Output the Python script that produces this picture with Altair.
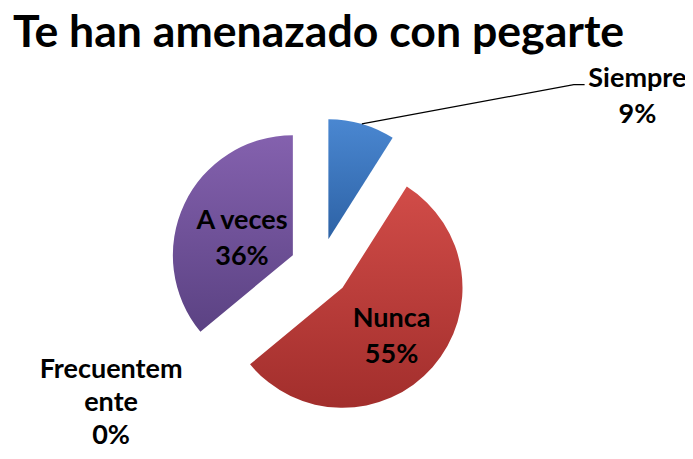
import math
import altair as alt
import pandas as pd

# ---------------- data ----------------
TITLE = "Te han amenazado con pegarte"
categories = ["Siempre", "Nunca", "Frecuentemente", "A veces"]
percent = [9, 55, 0, 36]
label_text = [["Siempre", "9%"], ["Nunca", "55%"], ["Frecuentem", "ente", "0%"], ["A veces", "36%"]]

# ---------------- style ----------------
colors_top = ["#4A87D1", "#D14C48", "#9BBB59", "#8461AE"]
colors_bottom = ["#2D62A5", "#A22E2C", "#77933C", "#5B4283"]
FONT = "Lato"
W, H = 677, 443          # view size
CX, CY = 312, 260        # pie centre in view
R = 120                  # pie radius (px)
EXPLODE = 0.25           # explosion distance, in radii
# label anchor (first baseline) : angle clockwise from 12 o'clock (deg), distance in radii
LABEL_PLACE = {
    "Siempre": (60.3, 3.045),
    "Nunca": (129.5, 0.773),
    "Frecuentemente": (242.2, 1.968),
    "A veces": (296.6, 0.727),
}

# ---------------- tables ----------------
df = pd.DataFrame({"cat": categories, "pct": percent})
df["end"] = df["pct"].cumsum()
df["start"] = df["end"] - df["pct"]
mid = (df["start"] + df["pct"] / 2) / 100 * 2 * math.pi
df["ox"] = EXPLODE * mid.map(math.sin)
df["oy"] = -EXPLODE * mid.map(math.cos)

lab = pd.DataFrame({"cat": categories, "text": label_text})
lab["lx"] = [LABEL_PLACE[c][1] * math.sin(math.radians(LABEL_PLACE[c][0])) for c in categories]
lab["ly"] = [-LABEL_PLACE[c][1] * math.cos(math.radians(LABEL_PLACE[c][0])) for c in categories]
lab["lh"] = [36 if len(t) < 3 else 33 for t in label_text]

# leader line for "Siempre": from the slice's outer edge to the left of its label
s = df.iloc[0]
smid = (s["start"] + s["pct"] / 2) / 100 * 2 * math.pi
slx, sly = lab.iloc[0]["lx"], lab.iloc[0]["ly"]
leader = pd.DataFrame({
    "o": [0, 1, 2],
    "x": [(1 + EXPLODE) * math.sin(smid), slx - 0.53, slx - 0.44],
    "y": [-(1 + EXPLODE) * math.cos(smid), sly - 0.02, sly - 0.02],
})

xs = alt.Scale(domain=[-1, 1], range=[CX - R, CX + R])
ys = alt.Scale(domain=[-1, 1], range=[CY - R, CY + R])
ts = alt.Scale(domain=[0, 100], range=[0, 2 * math.pi])

layers = []
for i, c in enumerate(categories):
    grad = alt.LinearGradient(
        gradient="linear", x1=0, y1=0, x2=0, y2=1,
        stops=[alt.GradientStop(offset=0, color=colors_top[i]),
               alt.GradientStop(offset=1, color=colors_bottom[i])],
    )
    layers.append(
        alt.Chart(df).transform_filter(alt.datum.cat == c)
        .mark_arc(radius=R, fill=grad, stroke=None)
        .encode(
            x=alt.X("ox:Q", scale=xs, axis=None),
            y=alt.Y("oy:Q", scale=ys, axis=None),
            theta=alt.Theta("start:Q", scale=ts),
            theta2="end:Q",
            tooltip=["cat:N", "pct:Q"],
        )
    )

leader_line = alt.Chart(leader).mark_line(color="black", strokeWidth=1.3).encode(
    x=alt.X("x:Q", scale=xs, axis=None),
    y=alt.Y("y:Q", scale=ys, axis=None),
    order="o:O",
)

label_layers = []
for lh in sorted(set(lab["lh"])):
    label_layers.append(
        alt.Chart(lab).transform_filter(alt.datum.lh == lh).mark_text(
            font=FONT, fontSize=27, fontWeight="bold", color="black",
            align="center", baseline="alphabetic", lineHeight=int(lh),
        ).encode(
            x=alt.X("lx:Q", scale=xs, axis=None),
            y=alt.Y("ly:Q", scale=ys, axis=None),
            text="text",
        )
    )

chart = alt.layer(*layers, leader_line, *label_layers).properties(
    width=W, height=H,
    autosize=alt.AutoSizeParams(type="none"),
    padding=0,
    title=alt.Title(
        TITLE, anchor="start", frame="group", font=FONT, fontSize=44.6,
        fontWeight="bold", color="black", baseline="alphabetic",
        offset=0, dx=5, dy=84,
    ),
).configure_view(stroke=None)

chart.save("out.html", embed_options={"renderer": "svg", "actions": False})
